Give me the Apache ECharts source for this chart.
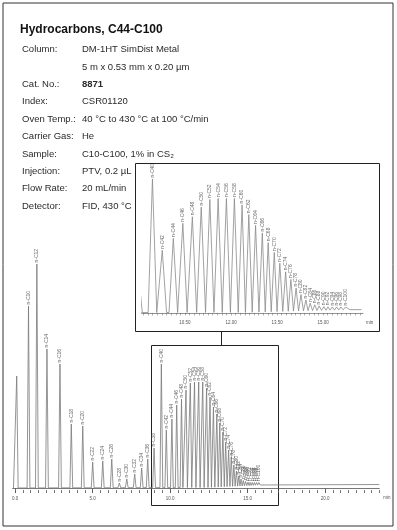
<!DOCTYPE html>
<html><head><meta charset="utf-8">
<script src="https://cdn.jsdelivr.net/npm/echarts@6/dist/echarts.min.js"></script>
<style>html,body{margin:0;padding:0;background:#fff}#c{width:397px;height:530px}</style>
</head><body><div id="c"></div>
<script>
// ---------- data ----------
const chartTitle = 'Hydrocarbons, C44-C100';
const tableLabels = ['Column:', '', 'Cat. No.:', 'Index:', 'Oven Temp.:', 'Carrier Gas:', 'Sample:', 'Injection:', 'Flow Rate:', 'Detector:'];
const tableValues = ['DM-1HT SimDist Metal', '5 m x 0.53 mm x 0.20 µm', '8871', 'CSR01120', '40 °C to 430 °C at 100 °C/min', 'He', 'C10-C100, 1% in CS₂', 'PTV, 0.2 µL', '20 mL/min', 'FID, 430 °C'];

const peakNames = ['', 'n-C10', 'n-C12', 'n-C14', 'n-C16', 'n-C18', 'n-C20', 'n-C22', 'n-C24', 'n-C26', 'n-C28', 'n-C30', 'n-C32', 'n-C34', 'n-C36', 'n-C38',
  'n-C40', 'n-C42', 'n-C44', 'n-C46', 'n-C48', 'n-C50', 'n-C52', 'n-C54', 'n-C56', 'n-C58', 'n-C60', 'n-C62', 'n-C64', 'n-C66', 'n-C68', 'n-C70',
  'n-C72', 'n-C74', 'n-C76', 'n-C78', 'n-C80', 'n-C82', 'n-C84', 'n-C86', 'n-C88', 'n-C90', 'n-C92', 'n-C94', 'n-C96', 'n-C98', 'n-C100'];
// retention time (min)
const peakTimes = [0.11, 0.87, 1.41, 2.06, 2.90, 3.63, 4.37, 5.01, 5.66, 6.24, 6.73, 7.21, 7.72, 8.17, 8.56, 8.97,
  9.44, 9.76, 10.12, 10.43, 10.74, 11.03, 11.31, 11.58, 11.85, 12.11, 12.36, 12.58, 12.80, 13.02, 13.21, 13.41,
  13.59, 13.78, 13.95, 14.12, 14.28, 14.44, 14.58, 14.73, 14.87, 15.03, 15.16, 15.30, 15.44, 15.58, 15.73];
// detector response (relative)
const peakHeights = [112, 182, 224, 139, 124, 64, 62, 26, 27, 29, 5, 9, 14, 20, 29, 40,
  124, 58, 69, 83, 89, 98, 105, 106, 106, 106, 100, 91, 81, 74, 65, 56,
  46, 38, 31, 23, 17, 12, 9, 7.5, 6.5, 5.8, 5.6, 5.5, 5.5, 5.5, 5.5];
// baseline drift (column bleed)
const driftTimes = [0, 12.5, 15.8, 23.5];
const driftLevels = [0, 0.5, 3, 3.5];

const mainTickLabels = [0, 5, 10, 15, 20];
const insetTickLabels = [10.5, 12, 13.5, 15];
const insetStart = 9.3; // inset shows n-C40 onward

// ---------- helpers ----------
function range(a, b, s) { const o = []; for (let i = 0; a + i * s <= b + 1e-9; i++) o.push(+(a + i * s).toFixed(4)); return o; }
function drift(t) {
  if (t <= driftTimes[0]) return driftLevels[0];
  for (let i = 1; i < driftTimes.length; i++) {
    if (t <= driftTimes[i]) {
      const f = (t - driftTimes[i - 1]) / (driftTimes[i] - driftTimes[i - 1]);
      return driftLevels[i - 1] + f * (driftLevels[i] - driftLevels[i - 1]);
    }
  }
  return driftLevels[driftLevels.length - 1];
}
function buildTrace(hw, tMin, tMax) {
  const pts = [[tMin, drift(tMin)]];
  for (let i = 0; i < peakTimes.length; i++) {
    const t = peakTimes[i];
    const lg = i > 0 ? (t - peakTimes[i - 1]) / 2 : hw;
    const rg = i < peakTimes.length - 1 ? (peakTimes[i + 1] - t) / 2 : hw;
    const l = t - Math.min(hw, lg), r = t + Math.min(hw, rg);
    pts.push([l, drift(l)], [t, peakHeights[i]], [r, drift(r)]);
  }
  pts.push([tMax, drift(tMax)]);
  return pts;
}
function labelPoints(filterFn) {
  const out = [];
  peakTimes.forEach((t, i) => { if (peakNames[i] && filterFn(t)) out.push({ name: peakNames[i], value: [t, peakHeights[i]] }); });
  return out;
}

const FONT = 'Liberation Sans, Arial, sans-serif';
const mainMin = -0.15, mainMax = 23.5;
const insMin = 9.09, insMax = 16.3;

const labelStyle = {
  show: true, position: 'top', distance: 1, rotate: 90, align: 'left', verticalAlign: 'middle',
  formatter: '{b}', fontSize: 5, color: '#444', fontFamily: FONT
};

// ---------- graphics (text table, frames) ----------
const graphics = [
  { type: 'rect', shape: { x: 3, y: 3, width: 390, height: 523 }, style: { fill: 'none', stroke: '#333', lineWidth: 1 } },
  { type: 'text', x: 20, y: 30, style: { text: chartTitle, font: 'bold 12px ' + FONT, fill: '#111', verticalAlign: 'middle' } },
  { type: 'rect', shape: { x: 135.5, y: 163.5, width: 244, height: 168 }, style: { fill: '#fff', stroke: '#222', lineWidth: 1 } },
  { type: 'line', shape: { x1: 221.5, y1: 331.5, x2: 221.5, y2: 345.5 }, style: { stroke: '#222', lineWidth: 1 } },
  { type: 'rect', shape: { x: 151.5, y: 345.5, width: 127, height: 160 }, style: { fill: 'none', stroke: '#222', lineWidth: 1 } }
];
tableLabels.forEach((lab, i) => {
  const y = 49.7 + i * 17.37;
  if (lab) graphics.push({ type: 'text', x: 22, y, style: { text: lab, font: '9.5px ' + FONT, fill: '#2a2a2a', verticalAlign: 'middle' } });
  graphics.push({ type: 'text', x: 82, y, style: { text: tableValues[i], font: (lab === 'Cat. No.:' ? 'bold ' : '') + '9.5px ' + FONT, fill: '#2a2a2a', verticalAlign: 'middle' } });
});

const axisCol = '#555';
const option = {
  animation: false,
  backgroundColor: '#fff',
  grid: [
    { left: 12.7, width: 366.6, top: 248, height: 242, containLabel: false, outerBoundsMode: 'none' },
    { left: 141.7, width: 221.3, top: 161.7, height: 152.3, containLabel: false, outerBoundsMode: 'none' }
  ],
  xAxis: [
    { gridIndex: 0, type: 'value', position: 'bottom', min: mainMin, max: mainMax,
      axisLine: { lineStyle: { color: axisCol, width: 0.8 } }, splitLine: { show: false },
      axisTick: { customValues: mainTickLabels, length: 5, lineStyle: { color: axisCol, width: 0.8 } },
      axisLabel: { customValues: mainTickLabels, formatter: v => Number(v).toFixed(1), fontSize: 4.5, color: axisCol, margin: 6, fontFamily: FONT },
      name: 'min', nameLocation: 'end', nameGap: 4,
      nameTextStyle: { fontSize: 4.5, color: axisCol, verticalAlign: 'top', padding: [7, 0, 0, 0], fontFamily: FONT } },
    { gridIndex: 0, type: 'value', position: 'bottom', offset: 0, min: mainMin, max: mainMax,
      axisLine: { show: false }, splitLine: { show: false }, axisLabel: { show: false },
      axisTick: { customValues: range(0, 23.5, 0.5), length: 3, lineStyle: { color: axisCol, width: 0.8 } } },
    { gridIndex: 1, type: 'value', position: 'bottom', min: insMin, max: insMax,
      axisLine: { lineStyle: { color: '#777', width: 0.8 } }, splitLine: { show: false },
      axisTick: { customValues: range(9.15, 16.2, 0.15), length: 2.5, lineStyle: { color: '#777', width: 0.6 } },
      axisLabel: { customValues: insetTickLabels, formatter: v => Number(v).toFixed(2), fontSize: 4.5, color: axisCol, margin: 6, fontFamily: FONT },
      name: 'min', nameLocation: 'end', nameGap: 3,
      nameTextStyle: { fontSize: 4.5, color: axisCol, verticalAlign: 'top', padding: [7, 0, 0, 0], fontFamily: FONT } }
  ],
  yAxis: [
    { gridIndex: 0, type: 'value', min: -2, max: 240, show: false, splitLine: { show: false } },
    { gridIndex: 1, type: 'value', min: -1, max: 140, show: false, splitLine: { show: false } }
  ],
  graphic: graphics,
  series: [
    { type: 'line', xAxisIndex: 0, yAxisIndex: 0, data: buildTrace(0.09, mainMin + 0.05, mainMax), showSymbol: false, symbol: 'none',
      lineStyle: { color: '#7a7a7a', width: 0.8 }, z: 3 },
    { type: 'scatter', xAxisIndex: 0, yAxisIndex: 0, data: labelPoints(() => true), symbolSize: 1,
      itemStyle: { color: 'rgba(0,0,0,0)' }, label: labelStyle, z: 4 },
    { type: 'line', xAxisIndex: 2, yAxisIndex: 1, data: buildTrace(0.14, insMin, insMax - 0.05), showSymbol: false, symbol: 'none',
      lineStyle: { color: '#8a8a8a', width: 0.8 }, z: 3 },
    { type: 'scatter', xAxisIndex: 2, yAxisIndex: 1, data: labelPoints(t => t >= insetStart), symbolSize: 1,
      itemStyle: { color: 'rgba(0,0,0,0)' }, label: labelStyle, z: 4 }
  ]
};
const chart = echarts.init(document.getElementById('c'), null, { renderer: 'canvas' });
chart.setOption(option);
</script></body></html>
